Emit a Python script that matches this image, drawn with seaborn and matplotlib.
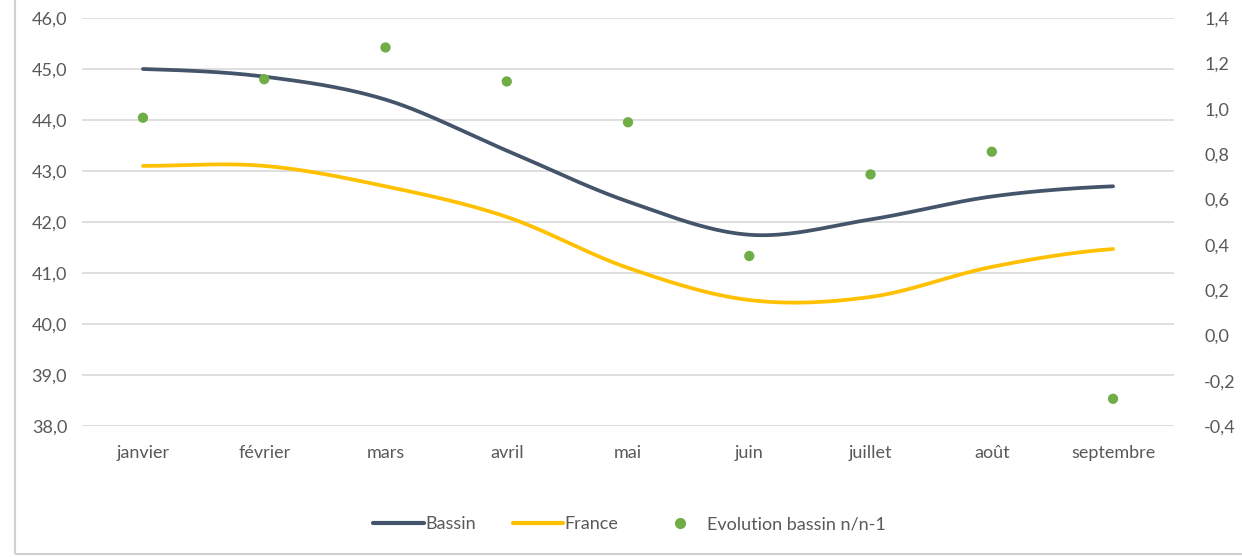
import numpy as np
import matplotlib
matplotlib.use("Agg")
import matplotlib.pyplot as plt
from matplotlib.lines import Line2D
from matplotlib.patches import Rectangle
import seaborn as sns

months = ["janvier", "février", "mars", "avril", "mai", "juin", "juillet", "août", "septembre"]
bassin = [45.0, 44.85, 44.4, 43.4, 42.4, 41.75, 42.05, 42.5, 42.7]
france = [43.1, 43.1, 42.7, 42.1, 41.1, 40.47, 40.53, 41.12, 41.47]
evolution = [0.96, 1.13, 1.27, 1.12, 0.94, 0.35, 0.71, 0.81, -0.28]

left_ticks = [38, 39, 40, 41, 42, 43, 44, 45, 46]
right_ticks = [-0.4, -0.2, 0.0, 0.2, 0.4, 0.6, 0.8, 1.0, 1.2, 1.4]

C_BASSIN = "#44546A"
C_FRANCE = "#FFC000"
C_EVOL = "#70AD47"
C_TEXT = "#595959"
C_GRID = "#D9D9D9"


def smooth(values, n=40):
    """Courbe lissée (Catmull-Rom) comme les lignes lissées d'Excel."""
    p = np.concatenate([[values[0]], values, [values[-1]]])
    xs, ys = [], []
    for i in range(len(values) - 1):
        t = np.linspace(0, 1, n, endpoint=False)
        p0, p1, p2, p3 = p[i], p[i + 1], p[i + 2], p[i + 3]
        y = 0.5 * ((2 * p1) + (-p0 + p2) * t + (2 * p0 - 5 * p1 + 4 * p2 - p3) * t ** 2
                   + (-p0 + 3 * p1 - 3 * p2 + p3) * t ** 3)
        xs.extend(i + t)
        ys.extend(y)
    xs.append(len(values) - 1)
    ys.append(values[-1])
    return np.array(xs), np.array(ys)


sns.set_theme(style="white")
plt.rcParams["font.family"] = ["Lato", "DejaVu Sans"]

fig = plt.figure(figsize=(12.42, 5.57), dpi=100)
ax = fig.add_axes([0.0663, 0.2352, 0.8787, 0.7325])
ax2 = ax.twinx()

x = np.arange(len(months))
bx, by = smooth(bassin)
fx, fy = smooth(france)
sns.lineplot(x=bx, y=by, ax=ax, color=C_BASSIN, linewidth=2.7, zorder=3)
sns.lineplot(x=fx, y=fy, ax=ax, color=C_FRANCE, linewidth=2.7, zorder=3)
sns.scatterplot(x=x, y=evolution, ax=ax2, color=C_EVOL, s=55, edgecolor="none", zorder=4)

ax.set_xlim(-0.5, len(months) - 0.5)
ax.set_ylim(38, 46)
ax.set_yticks(left_ticks)
ax.set_yticklabels([f"{v:.1f}".replace(".", ",") for v in left_ticks])
ax.set_xticks(x)
ax.set_xticklabels(months)
ax.grid(axis="y", color=C_GRID, linewidth=1.2)
ax.set_axisbelow(True)

ax2.set_ylim(-0.4, 1.4)
ax2.set_yticks(right_ticks)
ax2.set_yticklabels([f"{v:.1f}".replace(".", ",").replace("-0,0", "0,0") for v in right_ticks])
ax2.grid(False)

for a in (ax, ax2):
    for s in a.spines.values():
        s.set_visible(False)
    a.tick_params(length=0, colors=C_TEXT, labelsize=13)
    a.set_xlabel("")
    a.set_ylabel("")
ax.tick_params(axis="y", pad=11)
ax.tick_params(axis="x", pad=14)
ax2.tick_params(axis="y", pad=22)

handles = [
    Line2D([], [], color=C_BASSIN, linewidth=3),
    Line2D([], [], color=C_FRANCE, linewidth=3),
    Line2D([], [], color=C_EVOL, marker="o", linestyle="none", markersize=7),
]
fig.legend(handles, ["Bassin", "France", "Evolution bassin n/n-1"],
           loc="center", bbox_to_anchor=(0.507, 0.059), ncol=3, frameon=False,
           fontsize=13, labelcolor=C_TEXT, handlelength=2.8, handletextpad=0.1,
           columnspacing=2.0)

# cadre gris de la zone graphique
fig.patches.append(Rectangle((0.012, 0.006), 1.2, 1.2, transform=fig.transFigure,
                             fill=False, edgecolor="#D0D0D0", linewidth=1.5))

fig.savefig("out.png", dpi=100)
